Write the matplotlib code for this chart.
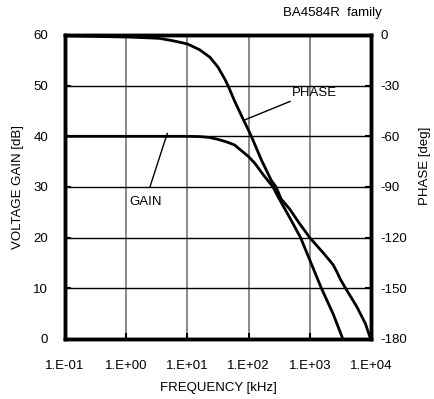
import numpy as np
import matplotlib
matplotlib.use("Agg")
from matplotlib import pyplot as plt

plt.rcParams['font.family'] = ['Liberation Sans', 'DejaVu Sans']
plt.rcParams['axes.unicode_minus'] = False

# gain curve: frequency [kHz], gain [dB]
gain_freq = [0.1, 1.0, 10.0, 15.8, 22.4, 31.6, 43.7, 58.9, 85.1, 100.0, 126.0, 182.0,
             251.0, 302.0, 468.0, 708.0, 1000.0, 1550.0, 2400.0, 3470.0]
gain_db = [40.0, 40.0, 40.0, 39.95, 39.8, 39.4, 38.9, 38.3, 36.7, 36.0, 34.7, 32.1,
           30.0, 28.1, 24.0, 20.0, 15.6, 10.0, 5.0, 0.0]

# phase curve: frequency [kHz], phase [deg]
phase_freq = [0.1, 1.0, 2.0, 3.5, 5.8, 10.0, 15.8, 23.4, 31.6, 40.7, 46.2, 58.9, 79.4,
              100.0, 111.0, 162.0, 234.0, 282.0, 339.0, 468.0, 661.0, 1000.0, 1660.0,
              2000.0, 2400.0, 2750.0, 3160.0, 3850.0, 5890.0, 8130.0, 9550.0, 10000.0]
phase_deg = [-0.5, -1.2, -1.6, -2.0, -3.4, -5.3, -8.7, -13.2, -19.0, -26.0, -30.0, -39.0, -49.0,
             -56.5, -60.0, -74.0, -86.0, -90.0, -97.0, -103.0, -111.0, -120.0, -129.0,
             -132.5, -136.0, -140.0, -144.6, -150.0, -161.0, -171.0, -178.5, -180.0]

xticks = [0.1, 1, 10, 100, 1000, 10000]
xlabels = ['1.E-01', '1.E+00', '1.E+01', '1.E+02', '1.E+03', '1.E+04']
gain_ticks = [0, 10, 20, 30, 40, 50, 60]
phase_ticks = [-180, -150, -120, -90, -60, -30, 0]

fs = 9.5

fig = plt.figure(figsize=(4.35, 3.99), dpi=100)
ax = fig.add_axes([0.1494, 0.1504, 0.7034, 0.7619])
ax2 = ax.twinx()

ax.plot(gain_freq, gain_db, color='black', lw=2.0, zorder=5, solid_joinstyle='round')
ax2.plot(phase_freq, phase_deg, color='black', lw=2.0, zorder=5, solid_joinstyle='round')

ax.set_xscale('log')
ax.set_xlim(0.1, 10000)
ax.set_ylim(0, 60)
ax2.set_ylim(-180, 0)

ax.set_xticks(xticks)
ax.set_xticklabels(xlabels)
ax.xaxis.set_minor_locator(matplotlib.ticker.NullLocator())
ax.set_yticks(gain_ticks)
ax2.set_yticks(phase_ticks)

#grid: vertical gray, horizontal black
for f in xticks[1:-1]:
    ax.axvline(f, color='#808080', lw=1.3, zorder=1)
for g in gain_ticks[1:-1]:
    ax.axhline(g, color='black', lw=1.0, zorder=1)

for a in (ax, ax2):
    for s in a.spines.values():
        s.set_linewidth(2.5)
ax.tick_params(axis='both', direction='in', length=4, width=1.5, labelsize=fs)
ax.tick_params(axis='y', pad=12)
ax.tick_params(axis='x', pad=15)
ax2.tick_params(axis='y', direction='in', length=4, width=1.5, labelsize=fs, pad=7)

ax.set_xlabel('FREQUENCY [kHz]', fontsize=fs)
ax.xaxis.set_label_coords(0.5, -0.142)
ax.set_ylabel('VOLTAGE GAIN [dB]', fontsize=fs)
ax.yaxis.set_label_coords(-0.134, 0.5)
ax2.set_ylabel('PHASE [deg]', fontsize=fs, rotation=90)
ax2.yaxis.set_label_coords(1.157, 0.57)

# annotations
ax.annotate('', xy=(85.0, 43.2), xytext=(479.0, 46.9),
            arrowprops=dict(arrowstyle='-', color='black', lw=1.0, shrinkA=0, shrinkB=0))
ax.text(512.0, 48.55, 'PHASE', fontsize=fs, ha='left', va='center')
ax.annotate('', xy=(4.7, 40.6), xytext=(2.45, 30.05),
            arrowprops=dict(arrowstyle='-', color='black', lw=1.0, shrinkA=0, shrinkB=0))
ax.text(1.11, 27.0, 'GAIN', fontsize=fs, ha='left', va='center')

fig.text(0.6506, 0.9674, 'BA4584R  family', fontsize=fs, ha='left', va='center')

fig.savefig('out.png', dpi=100)
